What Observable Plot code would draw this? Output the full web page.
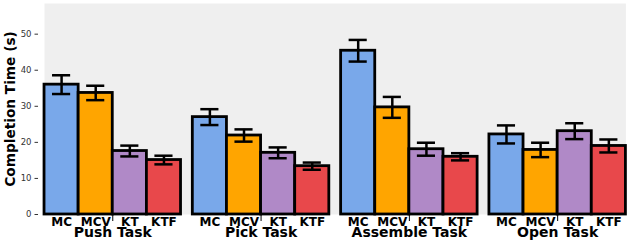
<!DOCTYPE html>
<html><head><meta charset="utf-8">
<script src="https://cdn.jsdelivr.net/npm/d3@7"></script>
<script src="https://cdn.jsdelivr.net/npm/@observablehq/plot@0.6"></script>
<style>body{margin:0;background:#fff}</style>
</head><body><div id="chart"></div>
<script>
const tasks = ["Push Task", "Pick Task", "Assemble Task", "Open Task"];
const methods = ["MC", "MCV", "KT", "KTF"];
const colors = ["#79a8ea", "#ffa500", "#b089c7", "#e8484b"];
const meanPush = [36.0, 33.7, 17.6, 15.1];
const errPush = [2.6, 2.0, 1.5, 1.2];
const meanPick = [27.0, 21.9, 17.1, 13.4];
const errPick = [2.2, 1.7, 1.5, 1.0];
const meanAssemble = [45.4, 29.7, 18.1, 16.0];
const errAssemble = [3.0, 2.9, 1.8, 1.0];
const meanOpen = [22.2, 17.9, 23.1, 19.0];
const errOpen = [2.5, 2.0, 2.2, 1.8];
const yTicks = [0, 10, 20, 30, 40, 50];
const yMax = 58.5;

const means = [meanPush, meanPick, meanAssemble, meanOpen];
const errs = [errPush, errPick, errAssemble, errOpen];
const data = tasks.flatMap((t, i) => methods.map((m, j) => ({task: t, method: m, mean: means[i][j], err: errs[i][j]})));

function panelWithGrid(index, scales, values, dimensions, context, next) {
  const node = next(index, scales, values, dimensions, context);
  const {width, marginLeft, marginRight} = dimensions;
  d3.select(node).selectAll("line.grid").data(yTicks.filter(t => t > 0)).join("line")
    .attr("class", "grid")
    .attr("x1", marginLeft).attr("x2", width - marginRight)
    .attr("y1", d => scales.y(d)).attr("y2", d => scales.y(d))
    .attr("stroke", "#fff").attr("stroke-width", 1.6);
  return node;
}

const plot = Plot.plot({
  width: 627,
  height: 247,
  marginLeft: 39,
  marginRight: 0,
  marginTop: 3,
  marginBottom: 33,
  style: {fontFamily: "DejaVu Sans", fontSize: "9px", background: "#fff"},
  fx: {domain: tasks, paddingInner: 0.0796, paddingOuter: 0.0223, align: 0.76, round: false},
  x: {domain: methods, padding: 0, round: false},
  y: {domain: [0, yMax]},
  color: {domain: methods, range: colors},
  marks: [
    Plot.frame({facet: "super", fill: "#efefef", stroke: null, render: panelWithGrid}),
    Plot.barY(data, {fx: "task", x: "method", y: "mean", fill: "method", stroke: "black", strokeWidth: 2.8}),
    Plot.ruleX(data, {fx: "task", x: "method", y1: d => d.mean - d.err, y2: d => d.mean + d.err, stroke: "black", strokeWidth: 2.5}),
    Plot.tickY(data, {fx: "task", x: "method", y: d => d.mean + d.err, stroke: "black", strokeWidth: 2.5, insetLeft: 8, insetRight: 8}),
    Plot.tickY(data, {fx: "task", x: "method", y: d => d.mean - d.err, stroke: "black", strokeWidth: 2.5, insetLeft: 8, insetRight: 8}),
    Plot.axisY({ticks: yTicks, tickSize: 3.5, tickPadding: 3.5, dx: -6, fontSize: 8.5, color: "#333", label: null}),
    Plot.axisY({ticks: [], dx: -6, label: "Completion Time (s)", labelAnchor: "center", labelArrow: "none", labelOffset: 39, fontSize: 13.7, fontWeight: "bold", color: "black"}),
    Plot.axisX({tickSize: 0, tickPadding: 3, fontSize: 12, fontWeight: "bold", color: "black", label: null}),
    Plot.axisFx({anchor: "bottom", tickSize: 7, tickPadding: 5.5, fontSize: 14, fontWeight: "bold", color: "black", label: null})
  ]
});
document.getElementById("chart").appendChild(plot);
</script>
</body></html>
